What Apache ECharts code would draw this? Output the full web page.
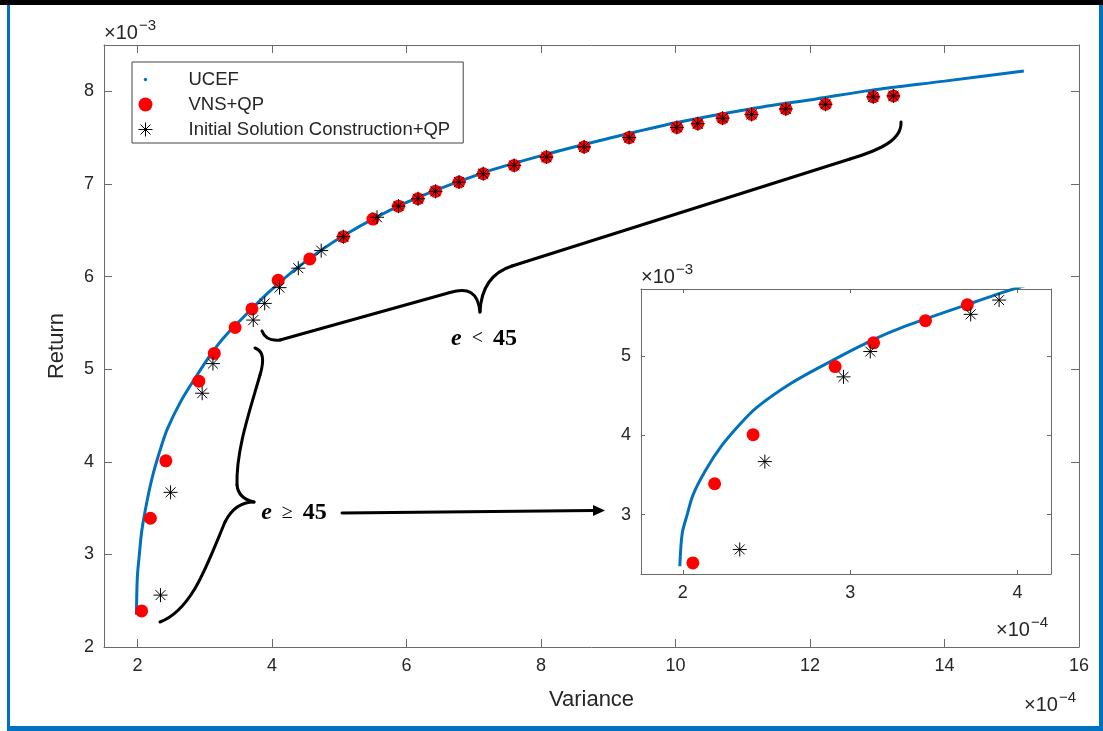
<!DOCTYPE html>
<html>
<head>
<meta charset="utf-8">
<script src="https://cdn.jsdelivr.net/npm/echarts@6/dist/echarts.min.js"></script>
<style>
  html, body { margin: 0; padding: 0; background: #fff; }
  #chart { width: 1103px; height: 731px; }
</style>
</head>
<body>
<div id="chart"></div>
<script>
// variance in 1e-4, return in 1e-3
var ucefVar = [1.982, 1.996, 2.026, 2.061, 2.136, 2.231, 2.344, 2.444, 2.642, 2.842, 3.101, 3.300, 3.698, 3.955, 4.42, 5.06, 6.00, 7.14, 8.08, 9.00, 10.00, 11.11, 12.11, 12.90, 14.00, 15.18];
var ucefRet = [2.348, 2.760, 3.000, 3.250, 3.561, 3.868, 4.148, 4.357, 4.652, 4.889, 5.173, 5.356, 5.652, 5.835, 6.12, 6.44, 6.80, 7.12, 7.32, 7.49, 7.66, 7.81, 7.92, 8.01, 8.11, 8.22];

var vnsVar = [2.06, 2.19, 2.42, 2.91, 3.14, 3.45, 3.70, 4.09, 4.56, 5.06, 5.50, 5.88, 6.17, 6.43, 6.78, 7.14, 7.60, 8.08, 8.64, 9.31, 10.02, 10.33, 10.70, 11.13, 11.64, 12.23, 12.94, 13.24];
var vnsRet = [2.39, 3.39, 4.01, 4.87, 5.17, 5.45, 5.65, 5.96, 6.19, 6.43, 6.62, 6.76, 6.84, 6.92, 7.02, 7.11, 7.20, 7.29, 7.40, 7.50, 7.61, 7.65, 7.71, 7.75, 7.81, 7.86, 7.94, 7.95];

var iscVar = [2.34, 2.49, 2.96, 3.12, 3.72, 3.89, 4.11, 4.39, 4.73, 5.06, 5.56, 5.88, 6.17, 6.43, 6.78, 7.14, 7.60, 8.08, 8.64, 9.31, 10.02, 10.33, 10.70, 11.13, 11.64, 12.23, 12.94, 13.24];
var iscRet = [2.56, 3.67, 4.74, 5.06, 5.53, 5.71, 5.88, 6.09, 6.28, 6.43, 6.64, 6.76, 6.84, 6.92, 7.02, 7.11, 7.20, 7.29, 7.40, 7.50, 7.61, 7.65, 7.71, 7.75, 7.81, 7.86, 7.94, 7.95];

var mainXTicks = [2, 4, 6, 8, 10, 12, 14, 16];
var mainYTicks = [2, 3, 4, 5, 6, 7, 8];
var insetXTicks = [2, 3, 4];
var insetYTicks = [3, 4, 5];

var names = ['UCEF', 'VNS+QP', 'Initial Solution Construction+QP'];

function pairs(xs, ys) {
    var out = [];
    for (var i = 0; i < xs.length; i++) out.push([xs[i], ys[i]]);
    return out;
}

var ucef = pairs(ucefVar, ucefRet);
var vns = pairs(vnsVar, vnsRet);
var isc = pairs(iscVar, iscRet);

var font = 'Liberation Sans';
var axisColor = '#6a6a6a';
var labelColor = '#262626';
var blue = '#0072BD';
var starPath = 'path://M0,-10L0,10M-10,0L10,0M-7.07,-7.07L7.07,7.07M-7.07,7.07L7.07,-7.07';

function axisOf(grid, min, max, ticks, pos, tickLen, showLabel, extra) {
    var ax = {
        gridIndex: grid, type: 'value', min: min, max: max, position: pos,
        axisLine: { show: true, onZero: false, lineStyle: { color: axisColor, width: 1 } },
        axisTick: { show: true, inside: true, length: tickLen, customValues: ticks, lineStyle: { color: axisColor } },
        axisLabel: { show: showLabel, customValues: ticks, color: labelColor, fontSize: 18, fontFamily: font, margin: 10 },
        splitLine: { show: false }
    };
    if (extra) for (var k in extra) ax[k] = extra[k];
    return ax;
}

var chart = echarts.init(document.getElementById('chart'), null, { renderer: 'canvas' });

var braceStyle = { stroke: '#000', lineWidth: 3, fill: null, lineCap: 'round' };
function bez(x1, y1, c1x, c1y, c2x, c2y, x2, y2) {
    return { type: 'bezierCurve', shape: { x1: x1, y1: y1, cpx1: c1x, cpy1: c1y, cpx2: c2x, cpy2: c2y, x2: x2, y2: y2 }, style: braceStyle, z: 50 };
}
function seg(x1, y1, x2, y2) {
    return { type: 'line', shape: { x1: x1, y1: y1, x2: x2, y2: y2 }, style: braceStyle, z: 50 };
}
function txt(x, y, s, size) {
    return { type: 'text', x: x, y: y, z: 50, style: { text: s, fontSize: size, fontFamily: font, fill: labelColor, align: 'left', verticalAlign: 'middle' } };
}
// "x10^n" exponent label, x = left edge, y = centre of the "x10" part
function expo(x, y, p) {
    return [txt(x, y, '\u00d710', 20), txt(x + 35, y - 7, '\u2212' + p, 15)];
}
function mathLabel(x, y, rel) {
    return {
        type: 'text', x: x, y: y, z: 50,
        style: {
            text: '{e|e}{o|  ' + rel + '  }{n|45}', align: 'center', verticalAlign: 'middle',
            rich: {
                e: { fontFamily: 'Liberation Serif', fontStyle: 'italic', fontWeight: 'bold', fontSize: 24, fill: '#000' },
                o: { fontFamily: 'Liberation Serif', fontSize: 20, fill: '#000' },
                n: { fontFamily: 'Liberation Serif', fontWeight: 'bold', fontSize: 24, fill: '#000' }
            }
        }
    };
}

var option = {
    animation: false,
    backgroundColor: '#fff',
    grid: [
        { left: 104, right: 24, top: 45, bottom: 84 },
        { left: 641, right: 52, top: 289, bottom: 157 }
    ],
    legend: {
        orient: 'vertical', left: 132, top: 62,
        backgroundColor: '#fff', borderColor: '#444', borderWidth: 1,
        padding: [8, 13, 4, 6],
        itemWidth: 50, itemHeight: 14, itemGap: 6,
        textStyle: { fontSize: 18.5, fontFamily: font, color: labelColor, padding: [0, 0, 0, 13] },
        data: [
            { name: names[0], icon: 'path://M0,0M14,14M7,5.3A1.7,1.7 0 1 1 7,8.7A1.7,1.7 0 1 1 7,5.3Z', itemStyle: { color: blue, borderWidth: 0 } },
            { name: names[1], icon: 'circle', itemStyle: { color: '#ff0000' } },
            { name: names[2], icon: starPath, itemStyle: { color: 'transparent', borderColor: '#000', borderWidth: 1 } }
        ]
    },
    xAxis: [
        axisOf(0, 1.5, 16, mainXTicks, 'bottom', 8, true, {
            name: 'Variance', nameLocation: 'middle', nameGap: 42,
            nameTextStyle: { fontSize: 22, fontFamily: font, color: labelColor }
        }),
        axisOf(0, 1.5, 16, mainXTicks, 'top', 8, false),
        axisOf(1, 1.75, 4.2, insetXTicks, 'bottom', 4, true),
        axisOf(1, 1.75, 4.2, insetXTicks, 'top', 4, false)
    ],
    yAxis: [
        axisOf(0, 2, 8.5, mainYTicks, 'left', 8, true, {
            name: 'Return', nameLocation: 'middle', nameGap: 36,
            nameTextStyle: { fontSize: 22, fontFamily: font, color: labelColor }
        }),
        axisOf(0, 2, 8.5, mainYTicks, 'right', 8, false),
        axisOf(1, 2.25, 5.85, insetYTicks, 'left', 4, true),
        axisOf(1, 2.25, 5.85, insetYTicks, 'right', 4, false)
    ],
    series: [
        { type: 'line', name: names[0], xAxisIndex: 0, yAxisIndex: 0, data: ucef, showSymbol: false, smooth: 0.3,
          lineStyle: { color: blue, width: 3 }, itemStyle: { color: blue }, z: 2 },
        { type: 'scatter', name: names[1], xAxisIndex: 0, yAxisIndex: 0, data: vns, symbolSize: 13,
          itemStyle: { color: '#ff0000', opacity: 1 }, z: 3 },
        { type: 'scatter', name: names[2], xAxisIndex: 0, yAxisIndex: 0, data: isc, symbol: starPath, symbolSize: 14,
          itemStyle: { color: 'transparent', borderColor: '#000', borderWidth: 1, opacity: 1 }, z: 4 },
        { type: 'line', name: names[0], xAxisIndex: 2, yAxisIndex: 2, data: ucef, showSymbol: false, smooth: 0.3,
          lineStyle: { color: blue, width: 3 }, itemStyle: { color: blue }, z: 2 },
        { type: 'scatter', name: names[1], xAxisIndex: 2, yAxisIndex: 2, data: vns, symbolSize: 13,
          itemStyle: { color: '#ff0000', opacity: 1 }, z: 3 },
        { type: 'scatter', name: names[2], xAxisIndex: 2, yAxisIndex: 2, data: isc, symbol: starPath, symbolSize: 14,
          itemStyle: { color: 'transparent', borderColor: '#000', borderWidth: 1, opacity: 1 }, z: 4 }
    ],
    graphic: [
        // outer frame
        { type: 'rect', shape: { x: 0, y: 0, width: 1103, height: 5 }, style: { fill: '#000' }, z: 60 },
        { type: 'rect', shape: { x: 7, y: 5, width: 3, height: 726 }, style: { fill: '#0070C0' }, z: 60 },
        { type: 'rect', shape: { x: 1099, y: 5, width: 4, height: 726 }, style: { fill: '#0070C0' }, z: 60 },
        { type: 'rect', shape: { x: 7, y: 726, width: 1096, height: 5 }, style: { fill: '#0070C0' }, z: 60 }
    ]
        .concat(expo(104, 33, 3))
        .concat(expo(1024, 705, 4))
        .concat(expo(996, 630, 4))
        .concat(expo(641, 277, 3))
        .concat([
            // brace for e < 45
            bez(262, 331, 265, 339, 271, 341, 280, 340),
            seg(280, 340, 450, 292.5),
            bez(450, 292.5, 468, 287, 478, 292, 480, 312),
            bez(480, 312, 481, 290, 490, 273, 512, 266),
            seg(512, 266, 850, 159),
            bez(850, 159, 880, 150, 902, 140, 901, 122),

            // brace for e >= 45
            bez(255, 348, 264, 351, 264, 362, 260, 375),
            bez(260, 375, 250, 410, 236, 450, 237, 485),
            bez(237, 485, 238, 495, 245, 500, 254, 502),
            bez(254, 502, 243, 502, 232, 508, 225, 522),
            bez(225, 522, 207, 565, 192, 610, 160, 622),

            // arrow to inset
            seg(342, 513, 594, 510.5),
            { type: 'polygon', shape: { points: [[605, 510.4], [593, 505], [593, 516]] }, style: { fill: '#000' }, z: 50 },

            mathLabel(484, 339, '<'),
            mathLabel(294, 513, '\u2265')
        ])
};

chart.setOption(option);
</script>
</body>
</html>
